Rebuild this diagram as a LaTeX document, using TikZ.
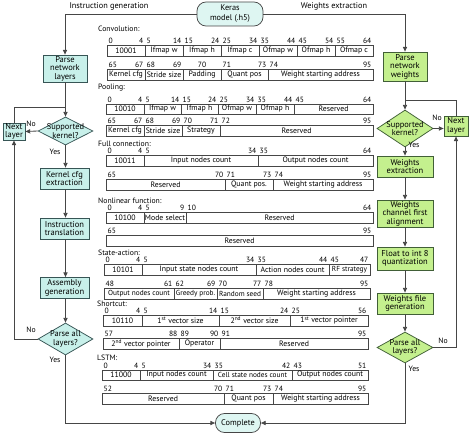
\documentclass[tikz,border=0pt]{standalone}
\usepackage{fontspec}
\setmainfont{PT Sans}
\usetikzlibrary{arrows.meta,shapes.geometric}
\definecolor{cyanf}{RGB}{200,240,234}
\definecolor{keraf}{RGB}{222,246,242}
\definecolor{greenf}{RGB}{196,240,142}
\definecolor{linec}{RGB}{70,70,70}
\definecolor{cboxc}{RGB}{55,85,85}
\definecolor{gboxc}{RGB}{65,95,55}
\newcounter{nid}
\newcommand{\fcell}[7]{%
  \stepcounter{nid}%
  \node[cell, minimum width={(#2-#1)*1pt}, minimum height={(#4-#3)*1pt}] (c\arabic{nid}) at ({(#1+#2)/2},{(#3+#4)/2}) {#5};
  \ifx\relax#7\relax
    \node[bit, anchor=south] (s\arabic{nid}) at ({(#1+#2)/2},#3) {#6};
  \else
    \node[bit, anchor=south west] (s\arabic{nid}) at (#1,#3) {#6};
    \node[bit, anchor=south east] (e\arabic{nid}) at (#2,#3) {#7};
  \fi}
\newcommand{\tight}[1]{{\fontsize{7.3}{8}\selectfont #1}}
\tikzset{
  cell/.style={draw=linec, line width=0.65pt, inner sep=0pt, outer sep=0pt, font=\fontsize{7.8}{8}\selectfont},
  bit/.style={inner xsep=1.5pt, inner ysep=1.5pt, font=\fontsize{7.6}{8}\selectfont},
  title/.style={anchor=west, inner sep=0pt, font=\fontsize{7.7}{8}\selectfont},
  cbox/.style={draw=cboxc, line width=0.75pt, fill=cyanf, align=center, inner sep=0pt, font=\fontsize{8.5}{8.6}\selectfont},
  gbox/.style={draw=gboxc, line width=0.75pt, fill=greenf, align=center, inner sep=0pt, font=\fontsize{8.5}{8.6}\selectfont},
  cdia/.style={diamond, draw=cboxc, line width=0.75pt, fill=cyanf, inner sep=0pt},
  gdia/.style={diamond, draw=gboxc, line width=0.75pt, fill=greenf, inner sep=0pt},
  dtext/.style={align=center, inner sep=0pt, font=\fontsize{8.4}{8.4}\selectfont},
  yn/.style={inner sep=0pt, font=\fontsize{7.7}{8}\selectfont},
  head/.style={inner sep=0pt, font=\fontsize{8.3}{9}\selectfont},
  term/.style={draw=linec, line width=0.75pt, fill=keraf, align=center, rounded corners=9pt, inner sep=0pt, font=\fontsize{8.3}{10}\selectfont},
  flow/.style={draw=linec, line width=0.85pt},
  arr/.style={flow, -{Triangle[length=4.8pt,width=4.2pt]}},
}
\begin{document}
\begin{tikzpicture}[x=1pt,y=-1pt]
\useasboundingbox (0,0) rectangle (474,436);

% ---------- terminals ----------
\node[term, minimum width=66pt, minimum height=24pt] (keras) at (230,14) {Keras\\model (.h5)};
\node[term, minimum width=45pt, minimum height=19pt] (done) at (238,423) {Complete};
\node[head] (hl) at (109,6) {Instruction generation};
\node[head] (hr) at (334,6) {Weights extraction};

% ---------- left column ----------
\node[cbox, minimum width=44pt, minimum height=27pt] (pnl) at (65,68.5) {Parse\\network\\layers};
\node[cdia, minimum width=55pt, minimum height=28pt] (sk1) at (65.5,131) {};
\node[dtext] (sk1t) at (sk1) {Supported\\kernel?};
\node[cbox, minimum width=22pt, minimum height=17pt] (nl1) at (14,131.5) {Next\\layer};
\node[cbox, minimum width=49pt, minimum height=21pt] (kce) at (64.5,178.5) {Kernel cfg\\extraction};
\node[cbox, minimum width=49pt, minimum height=21pt] (itr) at (64.5,228.5) {Instruction\\translation};
\node[cbox, minimum width=49pt, minimum height=21pt] (agn) at (64.5,288) {Assembly\\generation};
\node[cdia, minimum width=55pt, minimum height=32pt] (pa1) at (65.5,339) {};
\node[dtext] (pa1t) at (pa1) {Parse all\\layers?};
\coordinate (j1) at (65.5,107);

% ---------- right column ----------
\node[gbox, minimum width=44pt, minimum height=29pt] (pnw) at (405,66.5) {Parse\\network\\weights};
\node[gdia, minimum width=56pt, minimum height=37pt] (sk2) at (405,128.5) {};
\node[dtext] (sk2t) at (sk2) {Supported\\kernel?};
\node[gbox, minimum width=24pt, minimum height=20pt] (nl2) at (456,126) {Next\\layer};
\node[gbox, minimum width=56pt, minimum height=21pt] (wex) at (405,166.5) {Weights\\extraction};
\node[gbox, minimum width=56pt, minimum height=27pt] (wcf) at (405,213.5) {Weights\\channel first\\alignment};
\node[gbox, minimum width=56pt, minimum height=23pt] (fq) at (405,258.5) {Float to int 8\\quantization};
\node[gbox, minimum width=56pt, minimum height=21pt] (wfg) at (405,303.5) {Weights file\\generation};
\node[gdia, minimum width=56pt, minimum height=31pt] (pa2) at (405,347.5) {};
\node[dtext] (pa2t) at (pa2) {Parse all\\layers?};
\coordinate (j2) at (405,100);

% ---------- connectors ----------
\draw[arr] (keras.west) -| (pnl.north);
\draw[arr] (keras.east) -| (pnw.north);
\draw[arr] (pnl.south -| j1) -- (sk1.north);
\draw[flow] (nl1.north) |- (j1);
\draw[arr] (sk1.west) -- (nl1.east);
\draw[arr] (sk1.south) -- (sk1.south |- kce.north);
\draw[arr] (kce.south -| sk1.south) -- (itr.north -| sk1.south);
\draw[arr] (itr.south -| sk1.south) -- (agn.north -| sk1.south);
\draw[arr] (agn.south -| pa1.north) -- (pa1.north);
\draw[arr] (pa1.west) -| (nl1.south);
\draw[arr] (pa1.south) |- (done.west);
\node[yn] (no1) at (31,124) {No};
\node[yn] (ye1) at (55,152) {Yes};
\node[yn] (no2) at (31,330) {No};
\node[yn] (ye2) at (55,360) {Yes};

\draw[arr] (pnw.south) -- (sk2.north);
\draw[flow] (nl2.north) |- (j2);
\draw[arr] (sk2.east) -- (sk2.east -| nl2.west);
\draw[arr] (sk2.south) -- (wex.north);
\draw[arr] (wex.south) -- (wcf.north);
\draw[arr] (wcf.south) -- (fq.north);
\draw[arr] (fq.south) -- (wfg.north);
\draw[arr] (wfg.south) -- (pa2.north);
\draw[arr] (pa2.east) -| (nl2.south);
\draw[arr] (pa2.south) |- (done.east);
\node[yn] (no3) at (437,118) {No};
\node[yn] (ye3) at (414,145) {Yes};
\node[yn] (no4) at (443,341) {No};
\node[yn] (ye4) at (414,369) {Yes};

% ---------- Convolution ----------
\node[title] (t1) at (98,28.5) {Convolution:};
\fcell{107}{145}{45}{56}{10001}{0}{4}
\fcell{145}{183}{45}{56}{Ifmap w}{5}{14}
\fcell{183}{221}{45}{56}{Ifmap h}{15}{24}
\fcell{221}{259}{45}{56}{Ifmap c}{25}{34}
\fcell{259}{297}{45}{56}{Ofmap w}{35}{44}
\fcell{297}{335}{45}{56}{Ofmap h}{45}{54}
\fcell{335}{373}{45}{56}{Ofmap c}{55}{64}
\fcell{107}{145}{69}{80}{Kernel cfg}{65}{67}
\fcell{145}{183}{69}{80}{Stride size}{68}{69}
\fcell{183}{221}{69}{80}{Padding}{70}{}
\fcell{221}{268}{69}{80}{Quant pos}{71}{73}
\fcell{268}{373}{69}{80}{Weight starting address}{74}{95}

% ---------- Pooling ----------
\node[title] (t2) at (98,88) {Pooling:};
\fcell{106}{144}{104}{114}{10010}{0}{4}
\fcell{144}{181}{104}{114}{Ifmap w}{5}{14}
\fcell{181}{218}{104}{114}{Ifmap h}{15}{24}
\fcell{218}{256}{104}{114}{Ofmap w}{25}{34}
\fcell{256}{294}{104}{114}{Ofmap h}{35}{44}
\fcell{294}{373}{104}{114}{Reserved}{45}{64}
\fcell{106}{144}{125}{136}{Kernel cfg}{65}{67}
\fcell{144}{182}{125}{136}{Stride size}{68}{69}
\fcell{182}{220}{125}{136}{Strategy}{70}{71}
\fcell{220}{373}{125}{136}{Reserved}{72}{95}

% ---------- Full connection ----------
\node[title] (t3) at (98,144) {Full connection:};
\fcell{106}{144}{155}{166}{10011}{0}{4}
\fcell{144}{258}{155}{166}{Input nodes count}{5}{34}
\fcell{258}{373}{155}{166}{Output nodes count}{35}{64}
\fcell{106}{225}{179}{190}{Reserved}{65}{70}
\fcell{225}{273}{179}{190}{Quant pos.}{71}{73}
\fcell{273}{373}{179}{190}{Weight starting address}{74}{95}

% ---------- Nonlinear function ----------
\node[title] (t4) at (98,200.5) {Nonlinear function:};
\fcell{106}{144}{212}{223}{10100}{0}{4}
\fcell{144}{186}{212}{223}{Mode select}{5}{9}
\fcell{186}{373}{212}{223}{Reserved}{10}{64}
\fcell{106}{373}{235}{246}{Reserved}{65}{95}

% ---------- State-action ----------
\node[title] (t5) at (98,252.5) {State-action:};
\fcell{104}{142}{264}{275}{10101}{0}{4}
\fcell{142}{256}{264}{275}{Input state nodes count}{5}{34}
\fcell{256}{329}{264}{275}{Action nodes count}{35}{44}
\fcell{329}{370}{264}{275}{\tight{RF strategy}}{45}{47}
\fcell{104}{174}{288}{299}{\tight{Output nodes count}}{48}{61}
\fcell{174}{217}{288}{299}{\tight{Greedy prob.}}{62}{69}
\fcell{217}{263}{288}{299}{\tight{Random seed}}{70}{77}
\fcell{263}{370}{288}{299}{Weight starting address}{78}{95}

% ---------- Shortcut ----------
\node[title] (t6) at (97,304) {Shortcut:};
\fcell{103}{142}{315}{326}{10110}{0}{4}
\fcell{142}{219}{315}{326}{1\textsuperscript{st} vector size}{5}{14}
\fcell{219}{290}{315}{326}{2\textsuperscript{nd} vector size}{15}{24}
\fcell{290}{368}{315}{326}{1\textsuperscript{st} vector pointer}{25}{56}
\fcell{103}{179}{338}{349}{2\textsuperscript{nd} vector pointer}{57}{88}
\fcell{179}{220}{338}{349}{Operator}{89}{90}
\fcell{220}{368}{338}{349}{Reserved}{91}{95}

% ---------- LSTM ----------
\node[title] (t7) at (97,358) {LSTM:};
\fcell{102}{140}{370}{380}{11000}{0}{4}
\fcell{140}{213}{370}{380}{Input nodes count}{5}{34}
\fcell{213}{292}{370}{380}{\tight{Cell state nodes count}}{35}{42}
\fcell{292}{368}{370}{380}{Output nodes count}{43}{51}
\fcell{102}{224}{393}{404}{Reserved}{52}{70}
\fcell{224}{273}{393}{404}{Quant pos}{71}{73}
\fcell{273}{368}{393}{404}{Weight starting address}{74}{95}
\end{tikzpicture}
\end{document}
